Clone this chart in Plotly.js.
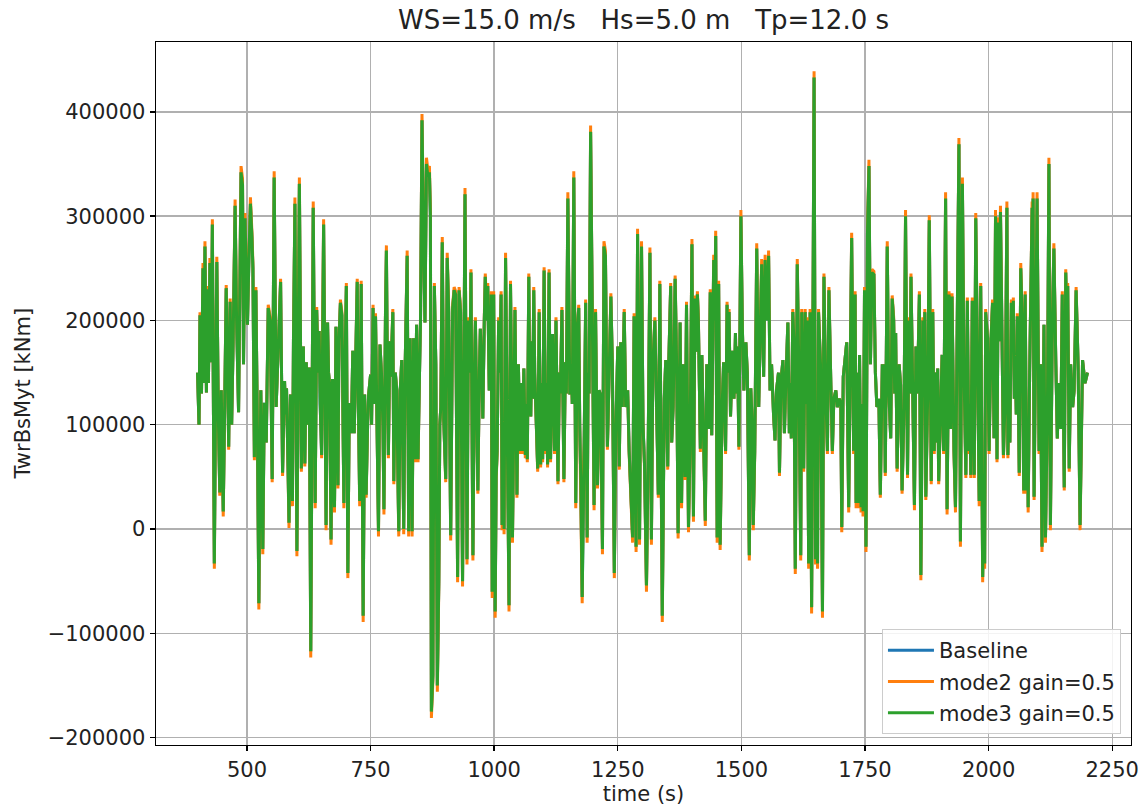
<!DOCTYPE html>
<html>
<head>
<meta charset="utf-8">
<script src="https://cdn.plot.ly/plotly-3.0.1.min.js"></script>
<style>html,body{margin:0;padding:0;background:#fff;}#chart{width:1140px;height:807px;}</style>
</head>
<body>
<div id="chart"></div>
<script>
const chartTitle = "WS=15.0 m/s\u00a0\u00a0 Hs=5.0 m\u00a0\u00a0 Tp=12.0 s";
const xLabel = "time (s)";
const yLabel = "TwrBsMyt [kNm]";
const seriesNames = ["Baseline", "mode2 gain=0.5", "mode3 gain=0.5"];
const xTicks = [500, 750, 1000, 1250, 1500, 1750, 2000, 2250];
const yTicks = [-200000, -100000, 0, 100000, 200000, 300000, 400000];

const time_s = [
400,403,405,408,411,413,415,418,420,422,
425,428,430,434,437,439,442,445,448,450,
452,455,458,461,463,466,469,472,476,479,
483,486,488,491,493,496,499,501,504,507,
510,512,515,518,521,524,526,528,532,535,
539,543,547,551,555,559,564,568,572,576,
578,580,583,585,588,590,592,594,597,599,
601,604,606,608,610,612,614,617,620,623,
626,629,632,634,636,638,641,644,646,648,
651,653,655,658,660,663,665,667,670,673,
675,677,680,682,684,686,689,692,694,696,
698,701,704,707,711,714,717,719,723,725,
728,731,733,735,738,741,744,746,750,752,
755,758,760,763,766,769,772,775,777,780,
782,784,786,789,791,795,797,800,803,805,
807,810,813,815,817,820,824,827,830,832,
834,837,840,843,846,849,851,854,856,858,
860,863,866,869,871,873,876,879,882,885,
888,890,892,895,898,902,905,908,912,914,
916,919,922,926,929,932,936,941,943,945,
948,951,953,955,957,960,962,965,967,970,
972,975,977,980,982,985,987,990,992,994,
996,999,1002,1004,1006,1009,1011,1014,1016,1018,
1020,1023,1025,1027,1030,1033,1035,1037,1040,1042,
1044,1046,1049,1052,1054,1057,1060,1063,1065,1067,
1070,1072,1074,1076,1078,1080,1082,1085,1088,1091,
1094,1096,1098,1101,1104,1106,1108,1111,1114,1118,
1122,1125,1127,1129,1132,1134,1137,1139,1141,1144,
1146,1149,1151,1153,1156,1158,1161,1163,1165,1168,
1171,1173,1175,1178,1180,1182,1185,1188,1190,1192,
1195,1198,1200,1202,1205,1207,1209,1212,1215,1219,
1222,1225,1227,1229,1233,1236,1239,1243,1246,1250,
1253,1256,1259,1263,1266,1270,1273,1277,1280,1283,
1287,1290,1294,1298,1301,1304,1308,1311,1315,1318,
1321,1325,1328,1332,1335,1338,1340,1344,1347,1351,
1353,1357,1359,1362,1366,1369,1372,1376,1379,1382,
1386,1389,1393,1396,1400,1403,1406,1408,1411,1413,
1417,1420,1423,1427,1430,1434,1437,1440,1444,1446,
1448,1451,1454,1457,1461,1464,1468,1471,1473,1475,
1478,1482,1485,1488,1490,1492,1495,1499,1502,1505,
1509,1512,1516,1519,1522,1524,1527,1531,1535,1538,
1541,1545,1548,1552,1555,1558,1561,1565,1568,1571,
1575,1577,1580,1584,1587,1590,1594,1597,1599,1601,
1604,1606,1609,1613,1616,1620,1622,1626,1629,1631,
1633,1636,1639,1642,1647,1650,1652,1654,1656,1660,
1664,1667,1670,1674,1677,1681,1684,1687,1691,1694,
1698,1701,1703,1706,1710,1713,1717,1720,1723,1727,
1730,1732,1734,1736,1739,1742,1744,1746,1749,1752,
1755,1758,1761,1764,1768,1771,1774,1778,1781,1785,
1787,1789,1791,1795,1798,1802,1805,1808,1810,1812,
1815,1819,1822,1825,1829,1832,1836,1839,1841,1843,
1846,1850,1853,1856,1860,1863,1867,1869,1871,1873,
1877,1880,1884,1887,1890,1893,1895,1897,1899,1903,
1906,1909,1913,1916,1920,1923,1926,1930,1933,1937,
1940,1943,1947,1950,1954,1957,1960,1962,1964,1967,
1971,1974,1977,1981,1984,1988,1990,1992,1994,1998,
2001,2005,2008,2011,2014,2017,2020,2022,2024,2027,
2030,2034,2037,2039,2041,2043,2046,2048,2050,2052,
2054,2056,2058,2062,2065,2068,2071,2074,2077,2079,
2080,2083,2088,2089,2090,2092,2095,2098,2102,2105,
2108,2112,2115,2119,2122,2125,2129,2132,2136,2139,
2142,2146,2149,2153,2156,2158,2160,2163,2166,2170,
2173,2177,2181,2185,2190,2195,2200
];

const baseline = [
150000,100000,205000,130000,250000,140000,271000,131000,230000,140000,
255000,160000,292000,-33000,160000,256000,110000,35000,133000,80000,
17000,120000,231000,150000,79000,218000,100000,180000,310000,200000,
112000,250000,342000,330000,158000,298000,240000,196000,260000,312000,
280000,250000,69000,229000,100000,-71000,40000,133000,-19000,121000,
83000,212000,200000,48000,337000,117000,183000,237000,54000,142000,
110000,135000,60000,6000,129000,80000,27000,180000,312000,150000,
-21000,200000,331000,200000,58000,120000,175000,63000,160000,100000,
155000,-117000,150000,308000,180000,25000,210000,150000,190000,120000,
71000,200000,292000,120000,4000,198000,150000,140000,-10000,144000,
80000,21000,194000,120000,42000,180000,217000,205000,120000,25000,
150000,233000,-42000,121000,92000,171000,92000,150000,237000,130000,
27000,235000,100000,-83000,129000,33000,100000,129000,148000,100000,
212000,120000,204000,104000,-2000,177000,150000,100000,19000,200000,
267000,150000,71000,180000,146000,208000,46000,150000,133000,60000,
-2000,133000,162000,80000,0,158000,262000,-2000,183000,100000,
-2000,183000,67000,196000,67000,150000,200000,392000,300000,250000,
198000,350000,338000,342000,300000,-175000,-140000,233000,158000,-150000,
-50000,100000,117000,275000,104000,48000,260000,208000,-6000,150000,
212000,229000,225000,-46000,229000,208000,-50000,321000,130000,-29000,
200000,150000,246000,100000,-25000,150000,200000,100000,37000,150000,
192000,150000,106000,200000,242000,200000,233000,133000,150000,225000,
-60000,225000,-79000,50000,75000,200000,150000,225000,4000,100000,
0,260000,150000,21000,-73000,235000,150000,-8000,108000,210000,
120000,33000,158000,75000,140000,75000,154000,71000,120000,67000,
242000,130000,108000,180000,125000,229000,150000,96000,58000,208000,
62000,140000,67000,248000,75000,140000,62000,246000,67000,187000,
75000,200000,120000,46000,150000,130000,210000,120000,48000,160000,
130000,317000,200000,129000,158000,120000,337000,120000,25000,192000,
212000,100000,50000,-65000,50000,83000,217000,-8000,150000,130000,
381000,200000,100000,23000,208000,120000,42000,133000,129000,-19000,
271000,262000,150000,79000,158000,223000,158000,-42000,96000,175000,
60000,179000,117000,208000,117000,133000,75000,33000,-8000,204000,
-17000,283000,-10000,271000,100000,63000,-54000,54000,265000,-10000,
158000,200000,133000,33000,235000,75000,-83000,125000,162000,60000,
158000,233000,83000,117000,240000,158000,-4000,198000,25000,158000,
50000,215000,2000,75000,273000,12000,221000,170000,225000,200000,
77000,167000,108000,8000,158000,96000,227000,90000,258000,200000,
281000,-8000,235000,-15000,117000,160000,75000,215000,150000,208000,
108000,171000,125000,188000,130000,175000,79000,300000,192000,133000,
179000,150000,-25000,135000,100000,4000,75000,269000,117000,183000,
254000,146000,258000,200000,262000,133000,158000,110000,85000,133000,
150000,54000,142000,162000,92000,142000,198000,92000,140000,87000,
208000,183000,-38000,254000,158000,-25000,208000,58000,208000,120000,
200000,-33000,208000,-75000,433000,-29000,50000,-33000,208000,158000,
-79000,242000,142000,75000,229000,138000,75000,125000,133000,117000,
125000,121000,2000,146000,162000,179000,21000,175000,279000,75000,
225000,25000,150000,25000,167000,21000,120000,17000,229000,-17000,
283000,348000,158000,246000,244000,150000,117000,125000,33000,158000,
120000,158000,54000,271000,133000,87000,221000,200000,130000,188000,
58000,158000,138000,37000,117000,300000,52000,200000,130000,242000,
158000,23000,175000,130000,225000,-44000,200000,140000,208000,31000,
133000,296000,46000,208000,75000,150000,83000,154000,46000,117000,
167000,75000,317000,19000,225000,96000,223000,75000,21000,221000,
369000,-12000,331000,158000,52000,219000,75000,120000,52000,219000,
52000,298000,167000,27000,233000,-46000,20000,-33000,208000,183000,
75000,183000,217000,87000,300000,67000,294000,180000,304000,158000,
71000,133000,308000,71000,120000,83000,217000,170000,219000,125000,
160000,110000,204000,54000,250000,200000,37000,225000,37000,90000,
21000,150000,308000,200000,317000,31000,200000,317000,75000,158000,
-17000,196000,-8000,117000,350000,4000,200000,269000,158000,87000,
140000,96000,225000,40000,246000,200000,233000,58000,158000,117000,
133000,229000,158000,4000,162000,140000,150000
];

const mode2_gain05 = [
150000,100000,208000,130000,255000,140000,276000,131000,233000,140000,
260000,160000,297000,-38000,160000,261000,110000,32000,133000,80000,
12000,120000,234000,150000,76000,221000,100000,180000,316000,203000,
112000,255000,348000,336000,158000,303000,243000,196000,265000,318000,
285000,255000,66000,232000,100000,-77000,37000,133000,-24000,121000,
83000,215000,203000,45000,343000,117000,183000,240000,51000,142000,
110000,135000,57000,1000,129000,80000,22000,180000,318000,150000,
-26000,203000,337000,203000,55000,120000,175000,60000,160000,100000,
155000,-123000,150000,314000,180000,20000,213000,150000,190000,120000,
68000,203000,297000,120000,-1000,198000,150000,140000,-15000,144000,
80000,16000,194000,120000,39000,180000,220000,208000,120000,20000,
150000,236000,-47000,121000,92000,171000,92000,150000,240000,130000,
22000,238000,100000,-89000,129000,30000,100000,129000,148000,100000,
215000,120000,207000,104000,-7000,177000,150000,100000,14000,203000,
272000,150000,68000,180000,146000,211000,43000,150000,133000,57000,
-7000,133000,162000,80000,-5000,158000,267000,-7000,183000,100000,
-7000,183000,64000,196000,64000,150000,203000,398000,306000,255000,
198000,356000,344000,348000,306000,-181000,-146000,236000,158000,-156000,
-55000,100000,117000,280000,104000,45000,265000,211000,-11000,150000,
215000,232000,228000,-51000,232000,211000,-55000,327000,130000,-34000,
203000,150000,249000,100000,-30000,150000,203000,100000,34000,150000,
192000,150000,106000,203000,245000,203000,236000,133000,150000,228000,
-66000,228000,-85000,47000,72000,203000,150000,228000,-1000,100000,
-5000,265000,150000,16000,-79000,238000,150000,-13000,108000,213000,
120000,30000,158000,72000,140000,72000,154000,68000,120000,64000,
245000,130000,108000,180000,125000,232000,150000,96000,55000,211000,
59000,140000,64000,251000,72000,140000,59000,249000,64000,187000,
72000,203000,120000,43000,150000,130000,213000,120000,45000,160000,
130000,323000,203000,129000,158000,120000,343000,120000,20000,192000,
215000,100000,47000,-71000,47000,83000,220000,-13000,150000,130000,
387000,203000,100000,18000,211000,120000,39000,133000,129000,-24000,
276000,267000,150000,76000,158000,226000,158000,-47000,96000,175000,
57000,179000,117000,211000,117000,133000,72000,30000,-13000,207000,
-22000,288000,-15000,276000,100000,60000,-60000,51000,270000,-15000,
158000,203000,133000,30000,238000,72000,-89000,125000,162000,57000,
158000,236000,83000,117000,243000,158000,-9000,198000,20000,158000,
47000,218000,-3000,72000,278000,7000,224000,170000,228000,203000,
74000,167000,108000,3000,158000,96000,230000,90000,263000,203000,
286000,-13000,238000,-20000,117000,160000,72000,218000,150000,211000,
108000,171000,125000,188000,130000,175000,76000,306000,192000,133000,
179000,150000,-30000,135000,100000,-1000,72000,274000,117000,183000,
259000,146000,263000,203000,267000,133000,158000,110000,85000,133000,
150000,51000,142000,162000,92000,142000,198000,92000,140000,87000,
211000,183000,-43000,259000,158000,-30000,211000,55000,211000,120000,
203000,-38000,211000,-81000,439000,-34000,47000,-38000,211000,158000,
-85000,245000,142000,72000,232000,138000,72000,125000,133000,117000,
125000,121000,-3000,146000,162000,179000,16000,175000,284000,72000,
228000,20000,150000,20000,167000,16000,120000,12000,232000,-22000,
288000,354000,158000,249000,247000,150000,117000,125000,30000,158000,
120000,158000,51000,276000,133000,87000,224000,203000,130000,188000,
55000,158000,138000,34000,117000,306000,49000,203000,130000,245000,
158000,18000,175000,130000,228000,-49000,203000,140000,211000,28000,
133000,301000,43000,211000,72000,150000,83000,154000,43000,117000,
167000,72000,323000,14000,228000,96000,226000,72000,16000,224000,
375000,-17000,337000,158000,49000,222000,72000,120000,49000,222000,
49000,303000,167000,22000,236000,-51000,15000,-38000,211000,183000,
72000,183000,220000,87000,306000,64000,299000,180000,310000,158000,
68000,133000,314000,68000,120000,83000,220000,170000,222000,125000,
160000,110000,207000,51000,255000,203000,34000,228000,34000,90000,
16000,150000,314000,203000,323000,28000,203000,323000,72000,158000,
-22000,196000,-13000,117000,356000,-1000,203000,274000,158000,87000,
140000,96000,228000,37000,249000,203000,236000,55000,158000,117000,
133000,232000,158000,-1000,162000,140000,150000
];

const mode3_gain05 = [
150000,100000,205000,130000,250000,140000,271000,131000,230000,140000,
255000,160000,292000,-33000,160000,256000,110000,35000,133000,80000,
17000,120000,231000,150000,79000,218000,100000,180000,310000,200000,
112000,250000,342000,330000,158000,298000,240000,196000,260000,312000,
280000,250000,69000,229000,100000,-71000,40000,133000,-19000,121000,
83000,212000,200000,48000,337000,117000,183000,237000,54000,142000,
110000,135000,60000,6000,129000,80000,27000,180000,312000,150000,
-21000,200000,331000,200000,58000,120000,175000,63000,160000,100000,
155000,-117000,150000,308000,180000,25000,210000,150000,190000,120000,
71000,200000,292000,120000,4000,198000,150000,140000,-10000,144000,
80000,21000,194000,120000,42000,180000,217000,205000,120000,25000,
150000,233000,-42000,121000,92000,171000,92000,150000,237000,130000,
27000,235000,100000,-83000,129000,33000,100000,129000,148000,100000,
212000,120000,204000,104000,-2000,177000,150000,100000,19000,200000,
267000,150000,71000,180000,146000,208000,46000,150000,133000,60000,
-2000,133000,162000,80000,0,158000,262000,-2000,183000,100000,
-2000,183000,67000,196000,67000,150000,200000,392000,300000,250000,
198000,350000,338000,342000,300000,-175000,-140000,233000,158000,-150000,
-50000,100000,117000,275000,104000,48000,260000,208000,-6000,150000,
212000,229000,225000,-46000,229000,208000,-50000,321000,130000,-29000,
200000,150000,246000,100000,-25000,150000,200000,100000,37000,150000,
192000,150000,106000,200000,242000,200000,233000,133000,150000,225000,
-60000,225000,-79000,50000,75000,200000,150000,225000,4000,100000,
0,260000,150000,21000,-73000,235000,150000,-8000,108000,210000,
120000,33000,158000,75000,140000,75000,154000,71000,120000,67000,
242000,130000,108000,180000,125000,229000,150000,96000,58000,208000,
62000,140000,67000,248000,75000,140000,62000,246000,67000,187000,
75000,200000,120000,46000,150000,130000,210000,120000,48000,160000,
130000,317000,200000,129000,158000,120000,337000,120000,25000,192000,
212000,100000,50000,-65000,50000,83000,217000,-8000,150000,130000,
381000,200000,100000,23000,208000,120000,42000,133000,129000,-19000,
271000,262000,150000,79000,158000,223000,158000,-42000,96000,175000,
60000,179000,117000,208000,117000,133000,75000,33000,-8000,204000,
-17000,283000,-10000,271000,100000,63000,-54000,54000,265000,-10000,
158000,200000,133000,33000,235000,75000,-83000,125000,162000,60000,
158000,233000,83000,117000,240000,158000,-4000,198000,25000,158000,
50000,215000,2000,75000,273000,12000,221000,170000,225000,200000,
77000,167000,108000,8000,158000,96000,227000,90000,258000,200000,
281000,-8000,235000,-15000,117000,160000,75000,215000,150000,208000,
108000,171000,125000,188000,130000,175000,79000,300000,192000,133000,
179000,150000,-25000,135000,100000,4000,75000,269000,117000,183000,
254000,146000,258000,200000,262000,133000,158000,110000,85000,133000,
150000,54000,142000,162000,92000,142000,198000,92000,140000,87000,
208000,183000,-38000,254000,158000,-25000,208000,58000,208000,120000,
200000,-33000,208000,-75000,433000,-29000,50000,-33000,208000,158000,
-79000,242000,142000,75000,229000,138000,75000,125000,133000,117000,
125000,121000,2000,146000,162000,179000,21000,175000,279000,75000,
225000,25000,150000,25000,167000,21000,120000,17000,229000,-17000,
283000,348000,158000,246000,244000,150000,117000,125000,33000,158000,
120000,158000,54000,271000,133000,87000,221000,200000,130000,188000,
58000,158000,138000,37000,117000,300000,52000,200000,130000,242000,
158000,23000,175000,130000,225000,-44000,200000,140000,208000,31000,
133000,296000,46000,208000,75000,150000,83000,154000,46000,117000,
167000,75000,317000,19000,225000,96000,223000,75000,21000,221000,
369000,-12000,331000,158000,52000,219000,75000,120000,52000,219000,
52000,298000,167000,27000,233000,-46000,20000,-33000,208000,183000,
75000,183000,217000,87000,300000,67000,294000,180000,304000,158000,
71000,133000,308000,71000,120000,83000,217000,170000,219000,125000,
160000,110000,204000,54000,250000,200000,37000,225000,37000,90000,
21000,150000,308000,200000,317000,31000,200000,317000,75000,158000,
-17000,196000,-8000,117000,350000,4000,200000,269000,158000,87000,
140000,96000,225000,40000,246000,200000,233000,58000,158000,117000,
133000,229000,158000,4000,162000,140000,150000
];

const colors = ["#1f77b4", "#ff7f0e", "#2ca02c"];
const seriesValues = [baseline, mode2_gain05, mode3_gain05];
const FONT = "DejaVu Sans, Verdana, sans-serif";
const TXT = "#222222";
const FS = 21;

const traces = seriesValues.map((vals, i) => ({
  type: "scatter",
  mode: "lines",
  x: time_s,
  y: vals,
  name: seriesNames[i],
  legendgroup: "g" + i,
  line: { color: colors[i], width: 3 }
}));

const axisCommon = {
  showgrid: true,
  gridcolor: "#b0b0b0",
  gridwidth: 1.4,
  zeroline: false,
  showline: true,
  mirror: true,
  linecolor: "#000000",
  linewidth: 1.4,
  ticks: "outside",
  ticklen: 5,
  tickwidth: 1.4,
  tickcolor: "#000000",
  ticklabeloverflow: "allow",
  tickfont: { family: FONT, size: FS, color: TXT }
};

const layout = {
  width: 1140,
  height: 807,
  paper_bgcolor: "#ffffff",
  plot_bgcolor: "#ffffff",
  margin: { l: 156, r: 9, t: 42, b: 62 },
  font: { family: FONT, size: FS, color: TXT },
  title: {
    text: chartTitle,
    font: { family: FONT, size: 26, color: TXT },
    x: 0.5, xref: "paper", xanchor: "center",
    y: 0.975, yref: "container", yanchor: "middle"
  },
  xaxis: Object.assign({}, axisCommon, {
    range: [316, 2288],
    tickmode: "array",
    tickvals: xTicks,
    ticktext: xTicks.map(String),
    title: { text: xLabel, font: { family: FONT, size: FS, color: TXT }, standoff: 2 }
  }),
  yaxis: Object.assign({}, axisCommon, {
    range: [-207000, 467000],
    tickmode: "array",
    tickvals: yTicks,
    ticktext: yTicks.map(v => v < 0 ? "\u2212" + Math.abs(v) : String(v))
  }),
  annotations: [{
    text: yLabel,
    xref: "paper", yref: "paper",
    x: -0.1374, y: 0.5,
    xanchor: "center", yanchor: "middle",
    textangle: -90,
    showarrow: false,
    font: { family: FONT, size: FS, color: TXT }
  }],
  showlegend: true,
  legend: {
    x: 0.9897, xanchor: "right",
    y: 0.0156, yanchor: "bottom",
    bgcolor: "rgba(255,255,255,0.85)",
    bordercolor: "#cccccc",
    borderwidth: 1,
    itemwidth: 46,
    font: { family: FONT, size: FS, color: TXT },
    traceorder: "grouped",
    tracegroupgap: 1
  }
};

Plotly.newPlot("chart", traces, layout, { displayModeBar: false, staticPlot: true });
</script>
</body>
</html>
